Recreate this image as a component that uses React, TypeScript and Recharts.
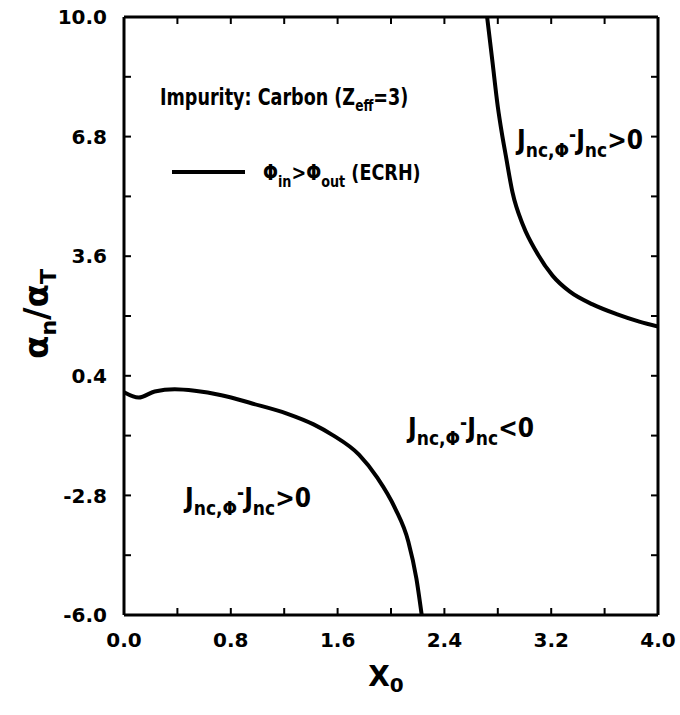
import React from 'react';
import { LineChart, Line, XAxis, YAxis, Customized } from 'recharts';

// Boundary curve 1: lower region (J_nc,Φ - J_nc = 0)
const lowerX = [0, 0.11, 0.23, 0.38, 0.53, 0.73, 0.96, 1.22, 1.42, 1.56, 1.76, 1.9, 2.03, 2.13, 2.19, 2.23];
const lowerY = [-0.04, -0.18, -0.02, 0.04, 0.0, -0.12, -0.34, -0.61, -0.9, -1.18, -1.71, -2.34, -3.14, -4.04, -5.02, -6.0];

// Boundary curve 2: upper right region
const upperX = [2.72, 2.76, 2.8, 2.83, 2.86, 2.91, 2.99, 3.09, 3.21, 3.34, 3.51, 3.69, 3.86, 4.0];
const upperY = [10, 8.8, 7.6, 6.9, 6.29, 5.31, 4.42, 3.71, 3.08, 2.65, 2.31, 2.05, 1.85, 1.72];

const xTicks = [0, 0.4, 0.8, 1.2, 1.6, 2.0, 2.4, 2.8, 3.2, 3.6, 4.0];
const yTicks = [-6.0, -4.4, -2.8, -1.2, 0.4, 2.0, 3.6, 5.2, 6.8, 8.4, 10.0];

const lowerData = lowerX.map((x, i) => ({ x, y: lowerY[i] }));
const upperData = upperX.map((x, i) => ({ x, y: upperY[i] }));

const FONT = 'DejaVu Sans, Liberation Sans, sans-serif';
const COND = 'DejaVu Sans Condensed, DejaVu Sans, sans-serif';

const tickStyle = { fontFamily: FONT, fontSize: 20, fontWeight: 700, fill: '#000' };

const majorX = (v: number, i: number) => (i % 2 === 0 ? v.toFixed(1) : '');
const majorY = (v: number, i: number) => (i % 2 === 0 ? v.toFixed(1) : '');
const blank = () => '';

const Jlabel = ({ x, y, sign }: { x: number; y: number; sign: string }) => (
  <text x={x} y={y} fontFamily={COND} fontWeight={700} fontSize={26} fill="#000">
    J
    <tspan fontSize={19} dy={8}>nc,Φ</tspan>
    <tspan fontSize={19} dy={-16}>-</tspan>
    <tspan fontSize={26} dy={8}>J</tspan>
    <tspan fontSize={19} dy={8}>nc</tspan>
    <tspan fontSize={26} dy={-8}>{sign}0</tspan>
  </text>
);

const Annotations = () => (
  <g>
    <text
      transform="translate(160,105) scale(0.85,1)"
      x={0}
      y={0}
      fontFamily={COND}
      fontWeight={700}
      fontSize={23}
      fill="#000"
    >
      Impurity: Carbon (Z
      <tspan fontSize={16} dy={6}>eff</tspan>
      <tspan fontSize={23} dy={-6}>=3)</tspan>
    </text>
    <line x1={172} y1={172} x2={245} y2={172} stroke="#000" strokeWidth={4} />
    <text
      transform="translate(263,180) scale(0.89,1)"
      x={0}
      y={0}
      fontFamily={COND}
      fontWeight={700}
      fontSize={22}
      fill="#000"
    >
      Φ
      <tspan fontSize={16} dy={7}>in</tspan>
      <tspan fontSize={22} dy={-7}>&gt;Φ</tspan>
      <tspan fontSize={16} dy={7}>out</tspan>
      <tspan fontSize={22} dy={-7}> (ECRH)</tspan>
    </text>
    <Jlabel x={517} y={149} sign=">" />
    <Jlabel x={408} y={437} sign="<" />
    <Jlabel x={185} y={507} sign=">" />
    <text x={386} y={686} textAnchor="middle" fontFamily={FONT} fontWeight={700} fontSize={28} fill="#000">
      X<tspan fontSize={20} dy={6}>0</tspan>
    </text>
    <text
      transform="translate(48,314) rotate(-90)"
      textAnchor="middle"
      fontFamily={FONT}
      fontWeight={700}
      fontSize={34}
      fill="#000"
    >
      α<tspan fontSize={22} dy={8}>n</tspan>
      <tspan fontSize={34} dy={-8}>/α</tspan>
      <tspan fontSize={22} dy={8}>T</tspan>
    </text>
  </g>
);

export default function App() {
  return (
    <div style={{ position: 'absolute', left: 0, top: 0, width: 680, height: 715, background: '#fff' }}>
      <LineChart width={680} height={715} margin={{ top: 16, right: 21, bottom: 70, left: 64 }}>
        <XAxis
          xAxisId="b"
          type="number"
          dataKey="x"
          domain={[0, 4]}
          ticks={xTicks}
          interval={0}
          allowDataOverflow
          height={30}
          tickSize={-7}
          tickMargin={25}
          tickFormatter={majorX}
          tick={tickStyle}
          axisLine={{ stroke: '#000', strokeWidth: 3 }}
          tickLine={{ stroke: '#000', strokeWidth: 2 }}
        />
        <XAxis
          xAxisId="t"
          orientation="top"
          type="number"
          dataKey="x"
          domain={[0, 4]}
          ticks={xTicks}
          interval={0}
          allowDataOverflow
          height={1}
          tickSize={-7}
          tickFormatter={blank}
          axisLine={{ stroke: '#000', strokeWidth: 3 }}
          tickLine={{ stroke: '#000', strokeWidth: 2 }}
        />
        <YAxis
          yAxisId="l"
          type="number"
          domain={[-6, 10]}
          ticks={yTicks}
          interval={0}
          allowDataOverflow
          width={60}
          tickSize={-7}
          tickMargin={24}
          tickFormatter={majorY}
          tick={tickStyle}
          axisLine={{ stroke: '#000', strokeWidth: 3 }}
          tickLine={{ stroke: '#000', strokeWidth: 2 }}
        />
        <YAxis
          yAxisId="r"
          orientation="right"
          type="number"
          domain={[-6, 10]}
          ticks={yTicks}
          interval={0}
          allowDataOverflow
          width={1}
          tickSize={-7}
          tickFormatter={blank}
          axisLine={{ stroke: '#000', strokeWidth: 3 }}
          tickLine={{ stroke: '#000', strokeWidth: 2 }}
        />
        <Line
          xAxisId="b"
          yAxisId="l"
          data={lowerData}
          dataKey="y"
          type="monotone"
          stroke="#000"
          strokeWidth={4}
          dot={false}
          isAnimationActive={false}
        />
        <Line
          xAxisId="b"
          yAxisId="l"
          data={upperData}
          dataKey="y"
          type="monotone"
          stroke="#000"
          strokeWidth={4}
          dot={false}
          isAnimationActive={false}
        />
        <Customized component={Annotations} />
      </LineChart>
    </div>
  );
}
